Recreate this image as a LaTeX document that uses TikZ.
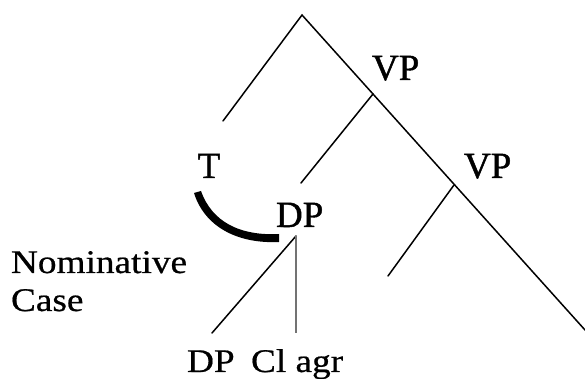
\documentclass[tikz,border=0pt]{standalone}
\usepackage{fontspec}
\setmainfont{Liberation Serif}
\newfontfamily\labfont{Liberation Serif}[FakeBold=1.2]
\newfontfamily\txtfont{Liberation Serif}[FakeStretch=1.13,FakeBold=0.6]
\begin{document}
\begin{tikzpicture}[x=1pt,y=1pt,
  branch/.style={line width=1.5pt,line cap=round},
  thinbranch/.style={line width=1.1pt,draw=black!55},
  lab/.style={inner sep=0pt,outer sep=0pt,font=\labfont\fontsize{37}{40}\selectfont},
  txt/.style={inner sep=0pt,outer sep=0pt,font=\txtfont\fontsize{33}{36}\selectfont}]
\useasboundingbox (0,0) rectangle (585,379);
% junctions and ends
\coordinate (A) at (302,364);
\coordinate (L) at (223,258);
\coordinate (V1) at (373,285);
\coordinate (V1L) at (301,196);
\coordinate (V2) at (454,194);
\coordinate (V2L) at (388,103);
\coordinate (R) at (585,49);
\coordinate (D) at (296,143);
\coordinate (DL) at (212,46);
\coordinate (DV) at (296,46);
% lines
\draw[branch] (L) -- (A) -- (R);
\draw[branch] (V1) -- (V1L);
\draw[branch] (V2) -- (V2L);
\draw[branch] (D) -- (DL);
\draw[thinbranch] (D) -- (DV);
% labels
\node[lab,anchor=base west] (vp1) at (372,299) {VP};
\node[lab,anchor=base west] (vp2) at (464,201) {VP};
\node[lab,anchor=base] (t) at (209,201) {T};
\node[lab,anchor=base west] (dp) at (276,152) {DP};
\node[txt,anchor=base west] (nom) at (11,106) {Nominative};
\node[txt,anchor=base west] (case) at (11,68) {Case};
\node[txt,anchor=base west] (dpb) at (187,7) {DP};
\node[txt,anchor=base west] (cl) at (251,7) {Cl agr};
% thick arc
\fill[line join=round] (194,186) .. controls (204,154) and (235,135) .. (279,137)
  -- (279,145) .. controls (240,143) and (212,157) .. (201,188) -- cycle;
\end{tikzpicture}
\end{document}
